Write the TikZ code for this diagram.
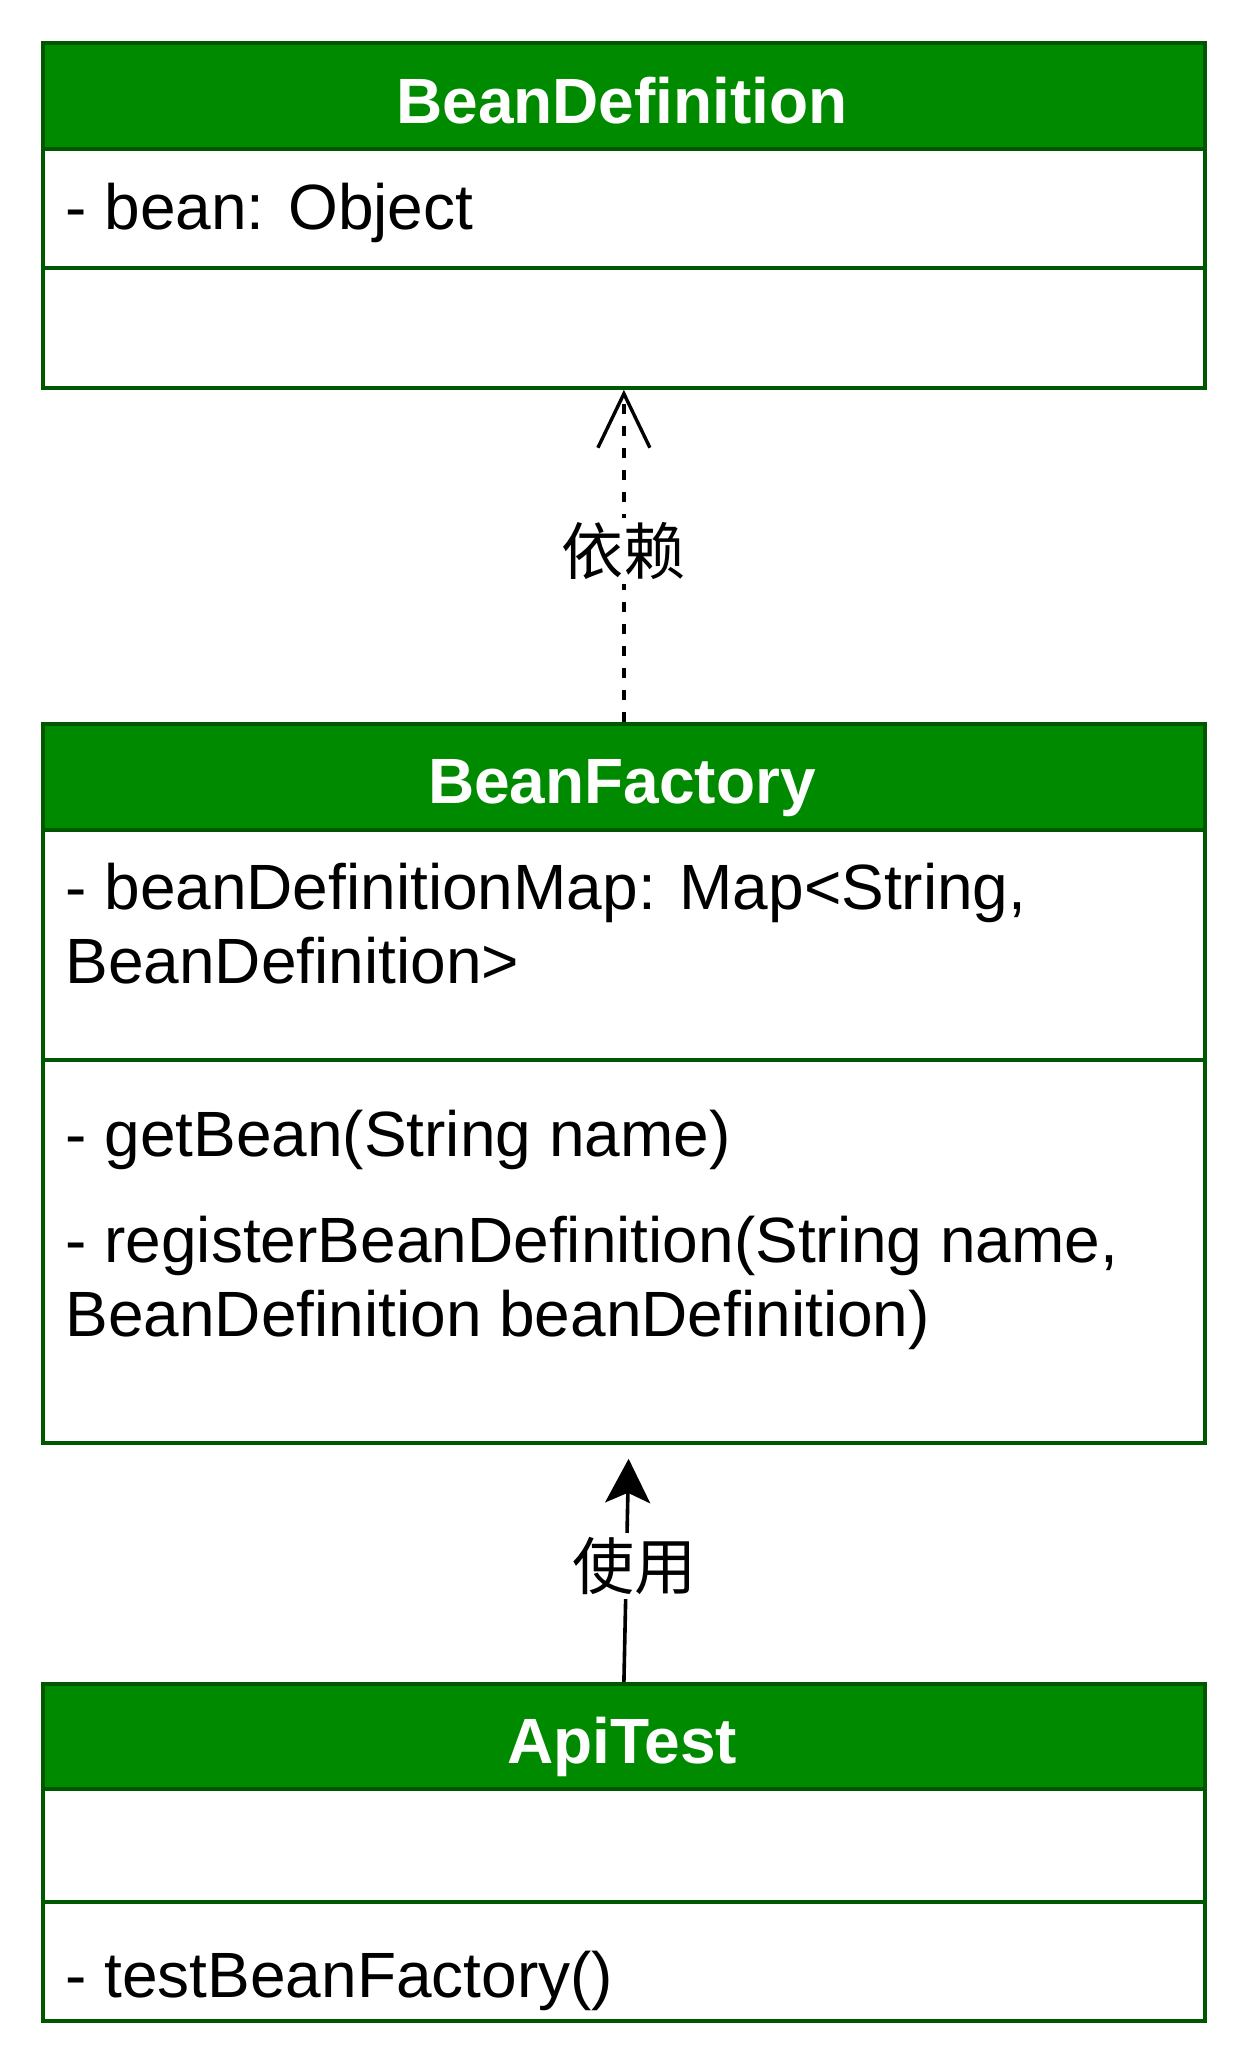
\documentclass[tikz,border=0pt]{standalone}
\usepackage{fontspec}
\setmainfont{Liberation Sans}
\newfontfamily\cjk{Noto Sans CJK SC}
\usetikzlibrary{arrows.meta,calc}
\definecolor{hdrgreen}{HTML}{008A00}
\definecolor{bordergreen}{HTML}{005700}
\tikzset{
  part/.style={draw=bordergreen, line width=1.9pt, fill=white, inner sep=0pt,
    minimum width=581pt, anchor=north west},
  hdr/.style={part, fill=hdrgreen},
  htext/.style={anchor=base, inner sep=0pt, text=white, font=\fontsize{32pt}{37pt}\selectfont\bfseries},
  mtext/.style={anchor=base west, inner sep=0pt, font=\fontsize{32pt}{37pt}\selectfont},
  lbl/.style={fill=white, inner sep=2pt, font=\fontsize{31pt}{36pt}\selectfont\cjk},
  dep/.style={line width=1.9pt, dash pattern=on 5pt off 6pt,
    -{Straight Barb[length=27pt,width=26pt,line width=1.7pt]}},
  usearrow/.style={line width=1.8pt, -{Stealth[length=22pt,width=22.5pt,inset=5pt]}}
}
\begin{document}
\begin{tikzpicture}[x=0.5pt,y=-0.5pt]
\useasboundingbox (0,0) rectangle (1244,2072);
% BeanDefinition
\node[hdr, minimum height=53pt] (h1) at (41,41) {};
\node[part, minimum height=59.5pt] (a1) at (41,147) {};
\node[part, minimum height=60pt] (m1) at (41,266) {};
\node[htext] (t1) at (622,123) {BeanDefinition};
\node[mtext] (t1a) at (65,229) {- bean: Object};
% BeanFactory
\node[hdr, minimum height=53pt] (h2) at (41,722) {};
\node[part, minimum height=115pt] (a2) at (41,828) {};
\node[part, minimum height=191.5pt] (m2) at (41,1058) {};
\node[htext] (t2) at (622,803) {BeanFactory};
\node[mtext] (t2a) at (65,909) {- beanDefinitionMap: Map<String,};
\node[mtext] (t2b) at (65,983) {BeanDefinition>};
\node[mtext] (t2c) at (65,1156) {- getBean(String name)};
\node[mtext] (t2d) at (65,1262) {- registerBeanDefinition(String name,};
\node[mtext] (t2e) at (65,1336) {BeanDefinition beanDefinition)};
% ApiTest
\node[hdr, minimum height=52.5pt] (h3) at (41,1682) {};
\node[part, minimum height=56.5pt] (a3) at (41,1787) {};
\node[part, minimum height=59.5pt] (m3) at (41,1900) {};
\node[htext] (t3) at (622,1763) {ApiTest};
\node[mtext] (t3a) at (65,1997) {- testBeanFactory()};
% connectors
\draw[dep] (h2.north) -- (m1.south) node[pos=0.515, lbl] (l1) {依赖};
\draw[usearrow, shorten >=7pt] (h3.north) -- ($(m2.south)+(5,0)$) node[pos=0.49, lbl, xshift=4pt] (l2) {使用};
\end{tikzpicture}
\end{document}
